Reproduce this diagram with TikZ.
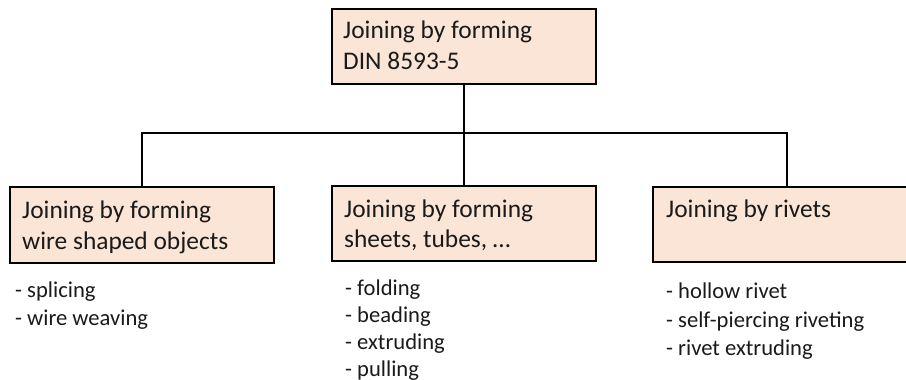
\documentclass[tikz,border=0pt]{standalone}
\usepackage{fontspec}
\setmainfont{Carlito}
\definecolor{boxfill}{HTML}{FBE5D6}
\definecolor{ink}{HTML}{1A1A1A}
\begin{document}
\begin{tikzpicture}[x=1pt,y=-1pt,
  catbox/.style={draw=black, fill=boxfill, line width=2.6pt, rectangle, inner sep=0pt, outer sep=0pt, anchor=north west},
  boxtext/.style={anchor=base west, inner sep=0pt, text=ink, font=\fontsize{25.4}{31}\selectfont},
  listtext/.style={anchor=base west, inner sep=0pt, text=ink, font=\fontsize{22.6}{28}\selectfont},
  conn/.style={draw=black, line width=2.6pt}]
\useasboundingbox (0,0) rectangle (906,380);
\clip (0,0) rectangle (906,380);
% connectors (behind boxes)
\node[catbox, minimum width=264pt, minimum height=75pt] (top) at (332,9) {};
\node[catbox, minimum width=264pt, minimum height=76pt] (b1) at (10,187) {};
\node[catbox, minimum width=264pt, minimum height=75pt] (b2) at (332,186) {};
\node[catbox, minimum width=268pt, minimum height=75pt] (b3) at (653,187) {};
\coordinate (bus) at (top.south |- 0,133);
\draw[conn] (top.south) -- (bus);
\draw[conn] (b1.north) -- (b1.north |- bus) -- (b3.north |- bus) -- (b3.north);
\draw[conn] (bus) -- (b2.north);
% box texts
\node[boxtext] (t1) at (343,38) {Joining by forming};
\node[boxtext] (t2) at (343,69) {DIN 8593-5};
\node[boxtext] (l1a) at (22,218) {Joining by forming};
\node[boxtext] (l1b) at (22,249) {wire shaped objects};
\node[boxtext] (m1a) at (344,217) {Joining by forming};
\node[boxtext] (m1b) at (344,247) {sheets, tubes, …};
\node[boxtext] (r1a) at (666,217) {Joining by rivets};
% lists
\node[listtext] (la) at (15,297) {- splicing};
\node[listtext] (lb) at (15,325) {- wire weaving};
\node[listtext] (ma) at (345,295) {- folding};
\node[listtext] (mb) at (345,322) {- beading};
\node[listtext] (mc) at (345,349) {- extruding};
\node[listtext] (md) at (345,376) {- pulling};
\node[listtext] (ra) at (666,298) {- hollow rivet};
\node[listtext] (rb) at (666,327) {- self-piercing riveting};
\node[listtext] (rc) at (666,355) {- rivet extruding};
\end{tikzpicture}
\end{document}
